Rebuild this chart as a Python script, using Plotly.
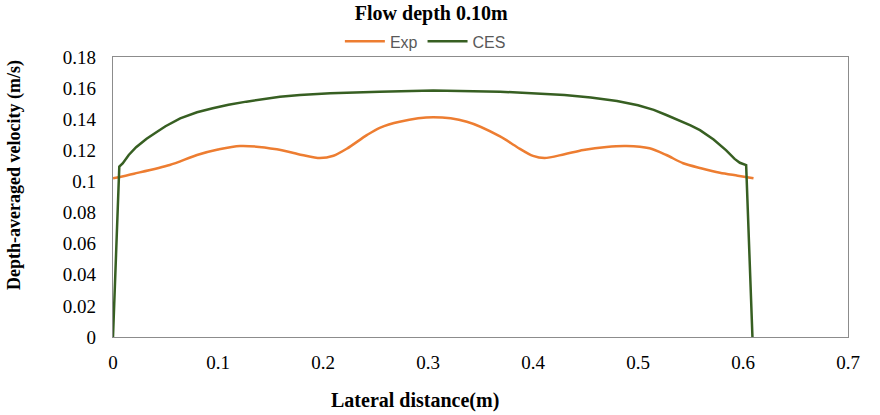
import plotly.graph_objects as go

exp_x = [0, 0.02, 0.054, 0.08, 0.1, 0.121, 0.156, 0.18, 0.197, 0.21, 0.2226, 0.242, 0.254, 0.273,
         0.305, 0.337, 0.3686, 0.385, 0.40, 0.411, 0.43, 0.448, 0.47, 0.489, 0.511, 0.527, 0.543,
         0.56, 0.578, 0.595, 0.61]
exp_y = [0.102, 0.105, 0.1106, 0.117, 0.1205, 0.1228, 0.1207, 0.117, 0.1150, 0.1165, 0.121, 0.1299,
         0.1345, 0.1384, 0.1412, 0.1384, 0.129, 0.122, 0.1164, 0.115, 0.1175, 0.1202, 0.1222, 0.1228,
         0.1213, 0.117, 0.1117, 0.1085, 0.1056, 0.1037, 0.102]

ces_x = [0, 0.006, 0.0092, 0.015, 0.022, 0.032, 0.042, 0.05, 0.064, 0.08, 0.095, 0.11, 0.127, 0.143,
         0.159, 0.178, 0.207, 0.254, 0.305, 0.3686, 0.43, 0.455, 0.48, 0.50, 0.515, 0.527, 0.54,
         0.55, 0.559, 0.572, 0.584, 0.592, 0.597, 0.603, 0.609]
ces_y = [0, 0.1095, 0.1116, 0.117, 0.122, 0.1275, 0.132, 0.1355, 0.1406, 0.1445, 0.147, 0.1493,
         0.1513, 0.1531, 0.1545, 0.1556, 0.1567, 0.1577, 0.1584, 0.1577, 0.1555, 0.1539, 0.1517,
         0.149, 0.146, 0.1427, 0.139, 0.136, 0.133, 0.127, 0.120, 0.1145, 0.112, 0.1105, 0]

x_ticks = [0, 0.1, 0.2, 0.3, 0.4, 0.5, 0.6, 0.7]
x_tick_labels = ["0", "0.1", "0.2", "0.3", "0.4", "0.5", "0.6", "0.7"]
y_ticks = [0, 0.02, 0.04, 0.06, 0.08, 0.1, 0.12, 0.14, 0.16, 0.18]
y_tick_labels = ["0", "0.02", "0.04", "0.06", "0.08", "0.1", "0.12", "0.14", "0.16", "0.18"]

serif = "Liberation Serif, Times New Roman, serif"

fig = go.Figure()
fig.add_trace(go.Scatter(x=exp_x, y=exp_y, mode="lines", name="Exp",
                         line=dict(color="#ED7D31", width=2.5, shape="spline", smoothing=0.8)))
fig.add_trace(go.Scatter(x=ces_x, y=ces_y, mode="lines", name="CES",
                         line=dict(color="#375F22", width=2.5)))

fig.update_layout(
    width=880, height=415,
    margin=dict(l=113, r=32, t=57, b=78),
    paper_bgcolor="white", plot_bgcolor="white",
    title=dict(text="<b>Flow depth 0.10m</b>", x=0.49, xanchor="center", y=0.985, yanchor="top",
               font=dict(family=serif, size=20, color="black")),
    legend=dict(orientation="h", x=0.425, xanchor="center", y=0.995, yanchor="bottom",
                font=dict(family="Liberation Sans Narrow, Liberation Sans, sans-serif", size=16, color="#595959"),
                itemwidth=40, bgcolor="rgba(0,0,0,0)"),
    showlegend=True,
    annotations=[
        dict(text="<b>Depth-averaged velocity (m/s)</b>", textangle=-90, xref="paper", yref="paper",
             x=-0.1333, y=0.579, xanchor="center", yanchor="middle", showarrow=False,
             font=dict(family=serif, size=18, color="black")),
        dict(text="<b>Lateral distance(m)</b>", xref="paper", yref="paper",
             x=0.411, y=-0.225, xanchor="center", yanchor="middle", showarrow=False,
             font=dict(family=serif, size=20, color="black")),
    ],
)
fig.update_xaxes(range=[0, 0.7], tickvals=x_ticks, ticktext=x_tick_labels, showgrid=False,
                 zeroline=False, showline=True, linecolor="#8C8C8C", linewidth=1.2, mirror=True,
                 ticks="", ticklabelstandoff=8, tickfont=dict(family=serif, size=19, color="black"))
fig.update_yaxes(range=[0, 0.18], tickvals=y_ticks, ticktext=y_tick_labels, showgrid=False,
                 zeroline=False, showline=True, linecolor="#8C8C8C", linewidth=1.2, mirror=True,
                 ticks="", ticklabelstandoff=12, tickfont=dict(family=serif, size=19, color="black"))

fig.write_html("out.html")
